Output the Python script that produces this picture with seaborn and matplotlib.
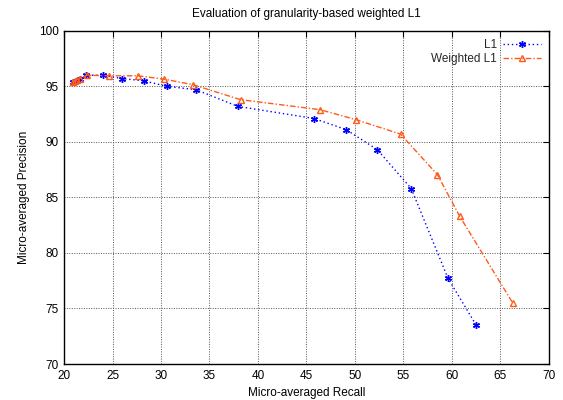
import matplotlib
matplotlib.use("Agg")
import matplotlib.pyplot as plt
import seaborn as sns
import pandas as pd

l1_recall = [20.9, 21.2, 21.6, 22.3, 24.0, 26.0, 28.2, 30.6, 33.6, 37.9, 45.8, 49.1, 52.3, 55.8, 59.6, 62.5]
l1_precision = [95.4, 95.5, 95.7, 96.0, 96.0, 95.7, 95.5, 95.0, 94.7, 93.2, 92.1, 91.1, 89.3, 85.8, 77.7, 73.5]

wl1_recall = [20.9, 21.1, 21.3, 21.6, 22.4, 24.6, 27.6, 30.3, 33.3, 38.2, 46.4, 50.1, 54.7, 58.5, 60.8, 66.3]
wl1_precision = [95.4, 95.5, 95.6, 95.7, 96.0, 95.95, 95.95, 95.65, 95.15, 93.8, 92.9, 92.0, 90.7, 87.05, 83.3, 75.45]

x_ticks = [20, 25, 30, 35, 40, 45, 50, 55, 60, 65, 70]
y_ticks = [70, 75, 80, 85, 90, 95, 100]

sns.set_theme(style="white")
plt.rcParams['font.family'] = ['Liberation Sans', 'DejaVu Sans']

fig = plt.figure(figsize=(5.63, 4.0), dpi=100)
ax = fig.add_axes([0.1137, 0.09, 0.975 - 0.1137, 0.923 - 0.09])

df1 = pd.DataFrame({"r": l1_recall, "p": l1_precision})
df2 = pd.DataFrame({"r": wl1_recall, "p": wl1_precision})

sns.lineplot(data=df1, x="r", y="p", sort=False, ax=ax, color="#0000ff",
             linestyle=(0, (1, 2)), linewidth=1.0, marker=(6, 2, 0),
             markersize=5, markeredgewidth=1.0, markeredgecolor="#0000ff", label="L1")
sns.lineplot(data=df2, x="r", y="p", sort=False, ax=ax, color="#ff5a1a",
             linestyle=(0, (4, 1.5, 1, 1.5)), linewidth=1.0, marker="^",
             markersize=5, markerfacecolor="none", markeredgewidth=1.0,
             markeredgecolor="#ff5a1a", label="Weighted L1")

ax.set_xlim(20, 70)
ax.set_ylim(70, 100)
ax.set_xticks(x_ticks)
ax.set_yticks(y_ticks)
ax.tick_params(axis='both', direction='in', length=4, width=0.8, labelsize=8.5,
               top=True, right=True, colors='black', pad=4)
ax.grid(True, color='#555555', linestyle=(0, (1, 1.5)), linewidth=0.7)
for s in ax.spines.values():
    s.set_color('black')
    s.set_linewidth(1.0)

ax.set_xlabel("Micro-averaged Recall", fontsize=8.5, color='black', labelpad=4)
ax.set_ylabel("Micro-averaged Precision", fontsize=8.5, color='black', labelpad=6)
ax.set_title("Evaluation of granularity-based weighted L1", fontsize=8.5, color='black', pad=10)

leg = ax.legend(loc='upper right', frameon=False, markerfirst=False, fontsize=8.5,
                handlelength=3.2, borderaxespad=0.3, labelspacing=0.2, handletextpad=0.5)

fig.savefig("out.png", dpi=100)
